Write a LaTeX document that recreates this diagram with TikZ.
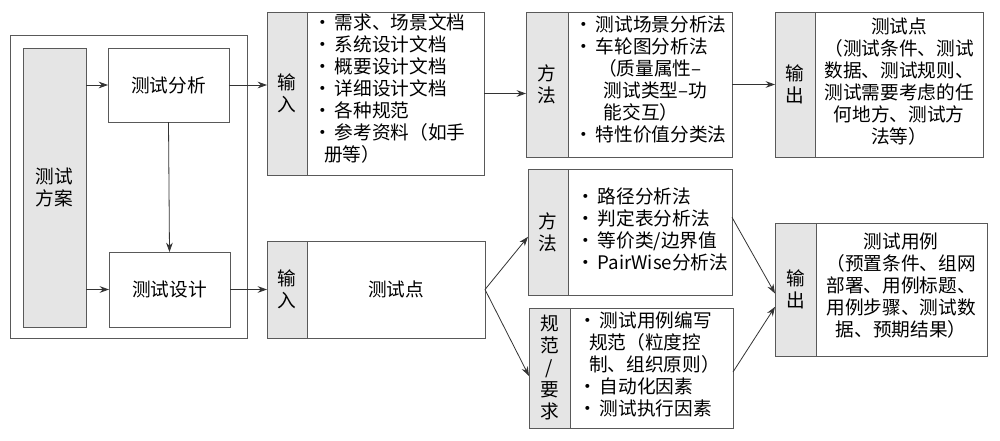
\documentclass[tikz,border=0pt]{standalone}
\usepackage{fontspec}
\setmainfont{Noto Sans CJK SC}
\usetikzlibrary{arrows.meta}
\begin{document}
\begin{tikzpicture}[x=0.75pt,y=-0.75pt,
  every node/.style={inner sep=0pt,outer sep=0pt,font=\fontsize{14}{16.5}\selectfont},
  box/.style={draw=black!65,line width=0.7pt,anchor=north west},
  gbox/.style={box,fill=black!10},
  arr/.style={-{Stealth[length=7pt,width=5pt]},line width=0.6pt,black!80}]
\useasboundingbox (0,0) rectangle (1000,440);
\draw[black!65,line width=0.7pt] (10,35) rectangle (247,338);
\node[gbox,minimum width=63*0.75pt,minimum height=279*0.75pt] (fa) at (23,48) {};
\node[align=center] at (fa.center) {测试\\方案};
\node[box,minimum width=121*0.75pt,minimum height=74*0.75pt] (fx) at (108,48) {测试分析};
\node[box,minimum width=121*0.75pt,minimum height=75*0.75pt] (sj) at (109,252) {测试设计};
% input 1
\node[gbox,minimum width=40*0.75pt,minimum height=163*0.75pt] (in1) at (267,12) {};
\node[align=center] at (in1.center) {输\\入};
\node[box,minimum width=177*0.75pt,minimum height=163*0.75pt] (in1w) at (307,12) {};
\node[anchor=north west,align=left] at (313,14) {•\,需求、场景文档\\•\,系统设计文档\\•\,概要设计文档\\•\,详细设计文档\\•\,各种规范\\•\,参考资料（如手\\\hspace*{0.6em}册等）};
% input 2
\node[gbox,minimum width=40*0.75pt,minimum height=97*0.75pt] (in2) at (267,241) {};
\node[align=center] at (in2.center) {输\\入};
\node[box,minimum width=178*0.75pt,minimum height=97*0.75pt] (in2w) at (307,241) {测试点};
% method 1
\node[gbox,minimum width=42*0.75pt,minimum height=145*0.75pt] (m1) at (526,12) {};
\node[align=center] at (m1.center) {方\\法};
\node[box,minimum width=164*0.75pt,minimum height=145*0.75pt] (m1w) at (568,12) {};
\node[anchor=north west,align=left] at (574,16) {•\,测试场景分析法\\•\,车轮图分析法\\\hspace*{1.3em}（质量属性–\\\hspace*{1.6em}测试类型–功\\\hspace*{1.6em}能交互）\\•\,特性价值分类法};
% output 1
\node[gbox,minimum width=40*0.75pt,minimum height=145*0.75pt] (o1) at (775,12) {};
\node[align=center] at (o1.center) {输\\出};
\node[box,minimum width=168*0.75pt,minimum height=145*0.75pt] (o1w) at (815,12) {};
\node[anchor=north,align=center] at (899,18) {测试点\\（测试条件、测试\\数据、测试规则、\\测试需要考虑的任\\何地方、测试方\\法等）};
% method 2
\node[gbox,minimum width=40*0.75pt,minimum height=126*0.75pt] (m2) at (528,169) {};
\node[align=center] at (m2.center) {方\\法};
\node[box,minimum width=164*0.75pt,minimum height=126*0.75pt] (m2w) at (568,169) {};
\node[anchor=north west,align=left] at (576,188) {•\,路径分析法\\•\,判定表分析法\\•\,等价类/边界值\\•\,PairWise分析法};
% norms
\node[gbox,minimum width=41*0.75pt,minimum height=120*0.75pt] (n2) at (529,308) {};
\node[align=center] at (n2.center) {规\\范\\/\\要\\求};
\node[box,minimum width=163*0.75pt,minimum height=120*0.75pt] (n2w) at (570,308) {};
\node[anchor=north west,align=left] at (578,312) {•\,测试用例编写\\\hspace*{0.6em}规范（粒度控\\\hspace*{0.6em}制、组织原则）\\•\,自动化因素\\•\,测试执行因素};
% output 2
\node[gbox,minimum width=41*0.75pt,minimum height=133*0.75pt] (o2) at (775,223) {};
\node[align=center] at (o2.center) {输\\出};
\node[box,minimum width=171*0.75pt,minimum height=133*0.75pt] (o2w) at (816,223) {};
\node[anchor=north,align=center] at (901,233) {测试用例\\（预置条件、组网\\部署、用例标题、\\用例步骤、测试数\\据、预期结果）};
% arrows
\draw[arr] (fa.east|-fx.west) -- (fx.west);
\draw[arr] (fa.east|-sj.west) -- (sj.west);
\draw[arr] (fx.south) -- (sj.north);
\draw[arr] (fx.east) -- (fx.east-|in1.west);
\draw[arr] (sj.east) -- (sj.east-|in2.west);
\draw[arr] (in1w.east) -- (in1w.east-|m1.west);
\draw[arr] (m1w.east) -- (o1.west);
\coordinate (s) at (in2w.east);
\draw[arr] (s) -- ([yshift=-3.6pt]m2.west);
\draw[arr] (s) -- ([yshift=-6pt]n2.west);
\draw[arr] ([yshift=11pt]m2w.east) -- ([yshift=-3pt]o2.west);
\draw[arr] ([yshift=-3pt]n2w.east) -- ([yshift=-13pt]o2.west);
\end{tikzpicture}
\end{document}
